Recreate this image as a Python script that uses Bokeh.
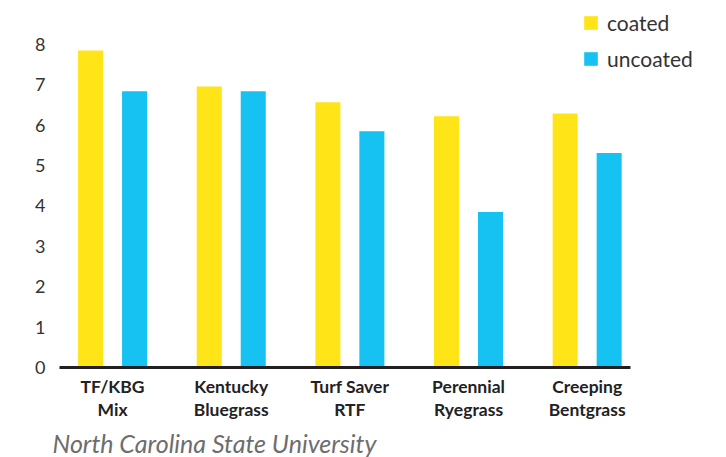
from bokeh.plotting import figure
from bokeh.models import ColumnDataSource, Range1d, FixedTicker, Legend, LegendItem, Title
from bokeh.transform import dodge
from bokeh.embed import file_html
from bokeh.resources import INLINE

categories = ["TF/KBG\nMix", "Kentucky\nBluegrass", "Turf Saver\nRTF", "Perennial\nRyegrass", "Creeping\nBentgrass"]
coated = [7.85, 6.96, 6.57, 6.22, 6.29]
uncoated = [6.84, 6.84, 5.85, 3.85, 5.31]
y_ticks = [0, 1, 2, 3, 4, 5, 6, 7, 8]
series_names = ["coated", "uncoated"]
colors = ["#FFE417", "#16C2F1"]
source_note = "North Carolina State University"

idx = list(range(len(categories)))
source = ColumnDataSource(dict(idx=idx, coated=coated, uncoated=uncoated))

x_start, x_axis_end, x_frame_end = -0.4475, 4.365, 5.107

p = figure(
    output_backend="svg", toolbar_location=None,
    frame_width=659, frame_height=359,
    min_border_left=59, min_border_right=0, min_border_top=8, min_border_bottom=82,
    x_range=Range1d(x_start, x_frame_end), y_range=Range1d(0, 8.891),
    background_fill_color="white", border_fill_color="white",
)
p.outline_line_color = None
p.grid.visible = False

r1 = p.vbar(x=dodge("idx", -0.1854, range=p.x_range), top="coated", width=0.211,
            source=source, fill_color=colors[0], line_color=None)
r2 = p.vbar(x=dodge("idx", 0.1854, range=p.x_range), top="uncoated", width=0.211,
            source=source, fill_color=colors[1], line_color=None)

xa = p.xaxis[0]
xa.bounds = (x_start, x_axis_end)
xa.ticker = FixedTicker(ticks=idx)
xa.major_label_overrides = {i: c for i, c in zip(idx, categories)}
xa.axis_line_color = "#231f20"
xa.axis_line_width = 3
xa.major_tick_line_color = None
xa.minor_tick_line_color = None
xa.major_tick_out = 0
xa.major_tick_in = 0
xa.major_label_standoff = 8
xa.major_label_text_font = "Lato"
xa.major_label_text_font_style = "bold"
xa.major_label_text_font_size = "17.5px"
xa.major_label_text_color = "#222222"
xa.major_label_text_line_height = 1.1

ya = p.yaxis[0]
ya.ticker = FixedTicker(ticks=y_ticks)
ya.axis_line_color = None
ya.major_tick_line_color = None
ya.minor_tick_line_color = None
ya.major_tick_out = 0
ya.major_tick_in = 0
ya.major_label_standoff = 14
ya.major_label_text_font = "Lato"
ya.major_label_text_font_size = "18px"
ya.major_label_text_color = "#333333"

legend = Legend(
    items=[LegendItem(label=series_names[0], renderers=[r1]),
           LegendItem(label=series_names[1], renderers=[r2])],
    location=(523, 296), orientation="vertical",
    glyph_width=17, glyph_height=17, label_height=17, spacing=11,
    label_standoff=8, padding=0, margin=0,
    border_line_color=None, background_fill_alpha=0,
    label_text_font="Lato", label_text_font_size="21px", label_text_color="#333333",
)
p.add_layout(legend, "center")

note = Title(text=source_note, align="left", offset=-7, standoff=6,
             text_font="Lato", text_font_style="italic", text_font_size="25px",
             text_color="#6d6d6d")
p.add_layout(note, "below")

open("out.html", "w").write(file_html(p, INLINE))
